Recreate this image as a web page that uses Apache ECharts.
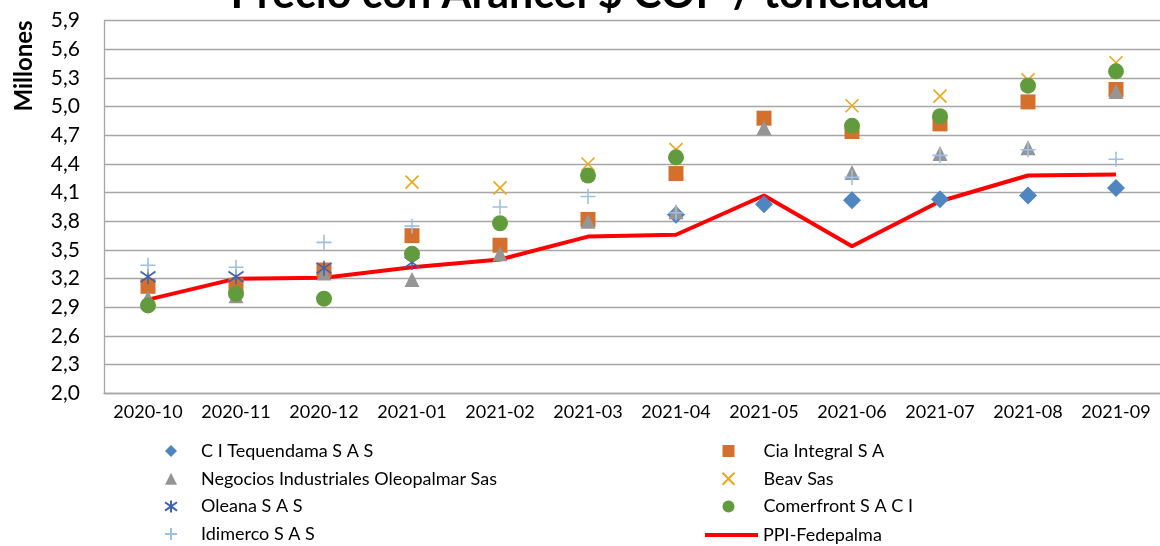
<!DOCTYPE html>
<html>
<head>
<meta charset="utf-8">
<script src="https://cdn.jsdelivr.net/npm/echarts@6/dist/echarts.min.js"></script>
<style>
  html, body { margin: 0; padding: 0; background: #fff; }
  #chart { width: 1160px; height: 546px; }
</style>
</head>
<body>
<div id="chart"></div>
<script>
// meses del eje x
const months = ['2020-10', '2020-11', '2020-12', '2021-01', '2021-02', '2021-03',
  '2021-04', '2021-05', '2021-06', '2021-07', '2021-08', '2021-09'];

// precios en millones de COP / tonelada
const tequendama = [null, null, null, null, null, null, 3.87, 3.98, 4.02, 4.03, 4.07, 4.15];
const ciaIntegral = [3.12, 3.13, 3.29, 3.65, 3.55, 3.82, 4.30, 4.88, 4.74, 4.82, 5.05, 5.18];
const negocios = [3.00, 3.02, 3.26, 3.19, 3.46, 3.80, 3.90, 4.78, 4.31, 4.51, 4.57, 5.16];
const beav = [null, null, null, 4.21, 4.15, 4.40, 4.55, null, 5.01, 5.11, 5.28, 5.46];
const oleana = [3.22, 3.22, 3.31, 3.37, null, null, null, null, null, null, null, null];
const comerfront = [2.92, 3.04, 2.99, 3.46, 3.78, 4.28, 4.47, null, 4.80, 4.90, 5.22, 5.37];
const idimerco = [3.34, 3.32, 3.58, 3.75, 3.95, 4.06, 3.89, null, 4.26, 4.49, 4.55, 4.45];
const ppi = [2.98, 3.20, 3.21, 3.32, 3.40, 3.64, 3.66, 4.07, 3.54, 4.01, 4.28, 4.29];

const font = 'Lato, "Open Sans", sans-serif';

// simbolos como path para que la leyenda conserve la proporcion
const diamondMark = 'path://M5,0L10,5L5,10L0,5Z';
const rectMark = 'path://M0,0L10,0L10,10L0,10Z';
const triMark = 'path://M5,0L10,10L0,10Z';
const circleMark = 'path://M5,0A5,5,0,1,1,5,10A5,5,0,1,1,5,0Z';
const xMark = 'path://M0,0L10,10M10,0L0,10';
const plusMark = 'path://M5,0L5,10M0,5L10,5';
const starMark = 'path://M0,1.5L10,8.5M10,1.5L0,8.5M5,0L5,10';

const chart = echarts.init(document.getElementById('chart'));

const scatter = (name, data, symbol, size, color) => ({
  name,
  type: 'scatter',
  data,
  symbol,
  symbolSize: size,
  itemStyle: { color, opacity: 1 }
});

const strokeScatter = (name, data, symbol, size, color) => ({
  name,
  type: 'scatter',
  data,
  symbol,
  symbolSize: size,
  itemStyle: { color: 'none', borderColor: color, borderWidth: 1.6, opacity: 1 }
});

const legendText = { fontFamily: font, fontSize: 18, color: '#000', lineHeight: 18 };

const option = {
  animation: false,
  title: {
    text: 'Precio con Arancel $ COP / tonelada',
    left: 'center',
    top: -32,
    textStyle: { fontFamily: font, fontSize: 43, fontWeight: 'bold', color: '#000' }
  },
  graphic: [{
    type: 'text',
    x: 24,
    y: 66,
    rotation: Math.PI / 2,
    style: {
      text: 'Millones',
      fontFamily: font,
      fontSize: 24,
      fontWeight: 'bold',
      fill: '#000',
      align: 'center',
      verticalAlign: 'middle'
    }
  }],
  grid: { left: 104, right: -6, top: 20.7, bottom: 152.7 },
  legend: [
    {
      orient: 'vertical',
      left: 157.5,
      top: 437,
      height: 110,
      itemWidth: 50,
      itemHeight: 12,
      itemGap: 9.7,
      textStyle: legendText,
      data: ['C I Tequendama S A S', 'Negocios Industriales Oleopalmar Sas', 'Oleana S A S', 'Idimerco S A S']
    },
    {
      orient: 'vertical',
      left: 715,
      top: 437,
      height: 110,
      itemWidth: 60,
      itemHeight: 12,
      itemGap: 9.7,
      textStyle: legendText,
      data: ['Cia Integral S A', 'Beav Sas', 'Comerfront S A C I']
    },
    {
      orient: 'vertical',
      left: 700,
      top: 521,
      itemWidth: 53,
      itemHeight: 4,
      textStyle: legendText,
      data: [{ name: 'PPI-Fedepalma', icon: 'rect' }]
    }
  ],
  xAxis: {
    type: 'category',
    data: months,
    boundaryGap: true,
    axisLine: { show: true, lineStyle: { color: '#a6a6a6', width: 1.3 } },
    axisTick: { show: false },
    axisLabel: { fontFamily: font, fontSize: 18, color: '#000', margin: 10, interval: 0 }
  },
  yAxis: {
    type: 'value',
    min: 2.0,
    max: 5.9,
    interval: 0.3,
    axisLine: { show: true, lineStyle: { color: '#a6a6a6', width: 1.3 } },
    axisTick: { show: false },
    splitLine: { lineStyle: { color: '#a6a6a6', width: 1.3 } },
    axisLabel: {
      fontFamily: font,
      fontSize: 21,
      color: '#000',
      margin: 24,
      formatter: v => v.toFixed(1).replace('.', ',')
    }
  },
  series: [
    {
      name: 'PPI-Fedepalma',
      type: 'line',
      data: ppi,
      z: 1,
      symbol: 'none',
      lineStyle: { color: '#ff0000', width: 4 },
      itemStyle: { color: '#ff0000' }
    },
    scatter('C I Tequendama S A S', tequendama, diamondMark, 18, '#4f86c0'),
    scatter('Cia Integral S A', ciaIntegral, rectMark, 15, '#d4702b'),
    scatter('Negocios Industriales Oleopalmar Sas', negocios, triMark, 15, '#959595'),
    strokeScatter('Beav Sas', beav, xMark, 13, '#e8a91a'),
    strokeScatter('Oleana S A S', oleana, starMark, 15, '#3f62ad'),
    scatter('Comerfront S A C I', comerfront, circleMark, 16, '#629b3e'),
    strokeScatter('Idimerco S A S', idimerco, plusMark, 15, '#9dc0e6')
  ]
};

chart.setOption(option);
</script>
</body>
</html>
